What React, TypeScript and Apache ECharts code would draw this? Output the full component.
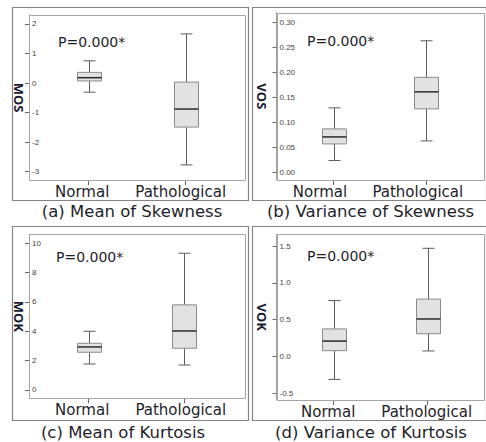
import React, { useEffect, useRef } from 'react';
import * as echarts from 'echarts';

// ---------- data ----------
const categories = ['Normal', 'Pathological'];
// each box: [min, Q1, median, Q3, max]
const mosNormal = [-0.31, 0.07, 0.18, 0.36, 0.75];
const mosPathological = [-2.77, -1.49, -0.88, 0.03, 1.66];
const vosNormal = [0.024, 0.057, 0.071, 0.087, 0.129];
const vosPathological = [0.063, 0.127, 0.161, 0.19, 0.263];
const mokNormal = [1.77, 2.57, 2.93, 3.18, 4.0];
const mokPathological = [1.7, 2.84, 4.02, 5.8, 9.32];
const vokNormal = [-0.31, 0.08, 0.21, 0.375, 0.76];
const vokPathological = [0.076, 0.31, 0.51, 0.78, 1.47];

const mosTicks = [-3, -2, -1, 0, 1, 2];
const vosTicks = [0, 0.05, 0.1, 0.15, 0.2, 0.25, 0.3];
const mokTicks = [0, 2, 4, 6, 8, 10];
const vokTicks = [-0.5, 0, 0.5, 1, 1.5];

const axisNames = ['MOS', 'VOS', 'MOK', 'VOK'];
const pTexts = ['P=0.000*', 'P=0.000*', 'P=0.000*', 'P=0.000*'];
const captions = [
  '(a) Mean of Skewness',
  '(b) Variance of Skewness',
  '(c) Mean of Kurtosis',
  '(d) Variance of Kurtosis',
];

// ---------- layout ----------
const panels = [
  {
    normal: mosNormal, patho: mosPathological, ticks: mosTicks, decimals: 0, min: -3.28, max: 2.3,
    grid: { left: 40.2, top: 15, width: 194, height: 165 }, yOffset: 11.2,
    inner: [29, 15, 215.5, 165], outer: [12, 7, 236, 193],
    p: [58, 41.7], caption: [132, 211], nameGap: 4, shift: [13, 10],
  },
  {
    normal: vosNormal, patho: vosPathological, ticks: vosTicks, decimals: 2, min: -0.015, max: 0.319,
    grid: { left: 287.1, top: 12.7, width: 185.6, height: 167.3 }, yOffset: 10.6,
    inner: [276.5, 12.7, 207, 167.3], outer: [251.7, 7, 233.8, 193],
    p: [307, 40.7], caption: [370.5, 211], nameGap: 8, shift: [27, 17],
  },
  {
    normal: mokNormal, patho: mokPathological, ticks: mokTicks, decimals: 0, min: -0.57, max: 10.61,
    grid: { left: 40.9, top: 234.3, width: 191.2, height: 164 }, yOffset: 11.9,
    inner: [29, 234.3, 215.5, 164], outer: [12, 226, 236, 194],
    p: [56, 256.7], caption: [123, 432.5], nameGap: 4, shift: [13, 7],
  },
  {
    normal: vokNormal, patho: vokPathological, ticks: vokTicks, decimals: 1, min: -0.59, max: 1.66,
    grid: { left: 286.7, top: 234.3, width: 188, height: 165.7 }, yOffset: 10.2,
    inner: [276.5, 234.3, 207, 165.7], outer: [251.7, 226, 233.8, 194],
    p: [307, 256], caption: [371, 432.5], nameGap: 8, shift: [11, 2],
  },
];

const TEXT = '#1e1e2a';
const SANS = 'DejaVu Sans';

const renderBox = (params: any, api: any) => {
  const x = api.value(0);
  const c = [1, 2, 3, 4, 5].map((i) => api.coord([x, api.value(i)]));
  const cx = Math.round(c[0][0]) + 0.5;
  const ys = c.map((p: number[]) => p[1]);
  const half = 12;
  const cap = 6;
  const whisker = { stroke: '#5c5c5c', lineWidth: 1, fill: 'none' };
  return {
    type: 'group',
    children: [
      { type: 'line', shape: { x1: cx, y1: ys[4], x2: cx, y2: ys[3] }, style: whisker },
      { type: 'line', shape: { x1: cx, y1: ys[1], x2: cx, y2: ys[0] }, style: whisker },
      { type: 'line', shape: { x1: cx - cap, y1: ys[4], x2: cx + cap, y2: ys[4] }, style: whisker },
      { type: 'line', shape: { x1: cx - cap, y1: ys[0], x2: cx + cap, y2: ys[0] }, style: whisker },
      {
        type: 'rect',
        shape: { x: cx - half, y: ys[3], width: half * 2, height: ys[1] - ys[3] },
        style: { fill: '#e2e2e2', stroke: '#8a8a8a', lineWidth: 1 },
      },
      {
        type: 'line',
        shape: { x1: cx - half, y1: ys[2], x2: cx + half, y2: ys[2] },
        style: { stroke: '#2a2a2a', lineWidth: 1.5 },
      },
    ],
  };
};

function buildOption() {
  const grid: any[] = [];
  const xAxis: any[] = [];
  const yAxis: any[] = [];
  const series: any[] = [];
  const graphic: any[] = [];

  panels.forEach((pn, i) => {
    grid.push({ ...pn.grid, containLabel: false, show: false });
    const richBase = { fontSize: 15, fontFamily: SANS, color: TEXT };
    xAxis.push({
      type: 'category',
      gridIndex: i,
      position: 'bottom',
      data: categories,
      boundaryGap: true,
      axisLine: { show: true, onZero: false, lineStyle: { color: '#a6a6a6' } },
      axisTick: { show: true, alignWithLabel: true, length: 5, inside: false, lineStyle: { color: '#666' } },
      axisLabel: {
        margin: 4,
        interval: 0,
        formatter: (v: string, idx: number) => `{c${idx}|${v}}`,
        rich: {
          c0: { ...richBase, padding: [0, pn.shift[0], 0, 0] },
          c1: { ...richBase, padding: [0, pn.shift[1], 0, 0] },
        },
      },
      splitLine: { show: false },
    });
    yAxis.push({
      type: 'value',
      gridIndex: i,
      min: pn.min,
      max: pn.max,
      position: 'left',
      offset: pn.yOffset,
      name: axisNames[i],
      nameLocation: 'middle',
      nameRotate: -90,
      nameGap: pn.nameGap,
      nameTextStyle: { fontFamily: 'Open Sans', fontWeight: 'bold', fontSize: 13, color: '#1a1a33' },
      axisLine: { show: true, onZero: false, lineStyle: { color: '#a0a0a0' } },
      axisTick: { show: true, inside: false, length: 4, customValues: pn.ticks, lineStyle: { color: '#666' } },
      axisLabel: {
        inside: true,
        margin: 3,
        fontSize: 8,
        fontFamily: 'Liberation Sans',
        color: '#444',
        customValues: pn.ticks,
        formatter: (v: number) => v.toFixed(pn.decimals),
      },
      splitLine: { show: false },
    });
    series.push({
      type: 'custom',
      xAxisIndex: i,
      yAxisIndex: i,
      data: [
        [0, ...pn.normal],
        [1, ...pn.patho],
      ],
      encode: { x: 0, y: [1, 2, 3, 4, 5] },
      renderItem: renderBox,
      clip: false,
      z: 3,
    });
    const [ox, oy, ow, oh] = pn.outer;
    graphic.push({
      type: 'rect',
      shape: { x: Math.round(ox) + 0.5, y: Math.round(oy) + 0.5, width: Math.round(ow), height: Math.round(oh) },
      style: { fill: 'none', stroke: '#858585', lineWidth: 1.2 },
      z: 1,
      silent: true,
    });
    const [ix, iy, iw, ih] = pn.inner;
    graphic.push({
      type: 'rect',
      shape: { x: Math.round(ix) + 0.5, y: Math.round(iy) + 0.5, width: Math.round(iw), height: Math.round(ih) },
      style: { fill: 'none', stroke: '#a6a6a6', lineWidth: 1 },
      z: 1,
      silent: true,
    });
    graphic.push({
      type: 'text',
      x: pn.p[0],
      y: pn.p[1],
      style: {
        text: pTexts[i],
        fontSize: 14,
        fontFamily: SANS,
        fill: TEXT,
        align: 'left',
        verticalAlign: 'middle',
      },
      z: 5,
    });
    graphic.push({
      type: 'text',
      x: pn.caption[0],
      y: pn.caption[1],
      style: {
        text: captions[i],
        fontSize: 16.5,
        fontFamily: SANS,
        fill: TEXT,
        align: 'center',
        verticalAlign: 'middle',
      },
      z: 5,
    });
  });

  return {
    animation: false,
    backgroundColor: '#ffffff',
    grid,
    xAxis,
    yAxis,
    series,
    graphic,
  };
}

export default function App() {
  const ref = useRef<HTMLDivElement>(null);
  useEffect(() => {
    if (!ref.current) return;
    const chart = echarts.init(ref.current, null, { renderer: 'svg', width: 486, height: 442 });
    chart.setOption(buildOption() as any);
    return () => chart.dispose();
  }, []);
  return (
    <div
      ref={ref}
      style={{ position: 'absolute', left: 0, top: 0, width: 486, height: 442, background: '#fff' }}
    />
  );
}
